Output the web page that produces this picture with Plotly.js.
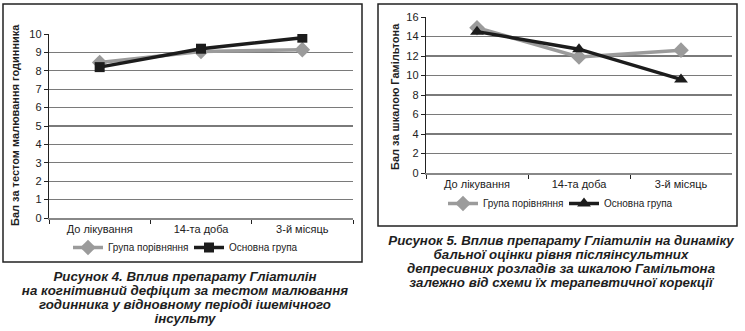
<!DOCTYPE html>
<html>
<head>
<meta charset="utf-8">
<script src="https://cdn.plot.ly/plotly-3.0.1.min.js"></script>
<style>
html,body{margin:0;padding:0;background:#fff;}
#wrap{position:relative;width:745px;height:331px;overflow:hidden;}
#chart{position:absolute;left:0;top:0;width:745px;height:331px;}
.cap{position:absolute;text-align:center;white-space:nowrap;font-family:'Liberation Sans',Arial,sans-serif;
  font-weight:bold;font-style:italic;font-size:13.3px;line-height:14px;color:#1e1e1e;}
</style>
</head>
<body>
<div id="wrap">
<div id="chart"></div>
<div id="cap4" class="cap" style="left:0px;top:270px;width:370px;"></div>
<div id="cap5" class="cap" style="left:380px;top:234px;width:362px;"></div>
</div>
<script>
var categories = ['До лікування', '14-та доба', '3-й місяць'];
var seriesNames = ['Група порівняння', 'Основна група'];

// Figure 4: clock drawing test score
var clockComparison = [8.45, 9.05, 9.15];
var clockMain = [8.2, 9.2, 9.8];
var clockTicks = [0, 1, 2, 3, 4, 5, 6, 7, 8, 9, 10];

// Figure 5: Hamilton scale score
var hamComparison = [14.9, 11.9, 12.6];
var hamMain = [14.5, 12.7, 9.6];
var hamTicks = [0, 2, 4, 6, 8, 10, 12, 14, 16];

var caption4 = [
  'Рисунок 4. Вплив препарату Гліатилін',
  'на когнітивний дефіцит за тестом малювання',
  'годинника у відновному періоді ішемічного',
  'інсульту'
];
var caption5 = [
  'Рисунок 5. Вплив препарату Гліатилін на динаміку',
  'бальної оцінки рівня післяінсультних',
  'депресивних розладів за шкалою Гамільтона',
  'залежно від схеми їх терапевтичної корекції'
];

document.getElementById('cap4').innerHTML = caption4.join('<br>');
document.getElementById('cap5').innerHTML = caption5.join('<br>');

var W = 745, H = 331;
function px(x) { return x / W; }
function py(y) { return (H - y) / H; }

var FONT = 'Liberation Sans, Arial, sans-serif';
var GRAY = '#9b9b9b';
var BLACK = '#1c1c1c';

var traces = [
  {x: categories, y: clockComparison, name: seriesNames[0], xaxis: 'x', yaxis: 'y', legend: 'legend',
   mode: 'lines+markers', line: {color: GRAY, width: 3.5},
   marker: {symbol: 'diamond', size: 12, color: GRAY}},
  {x: categories, y: clockMain, name: seriesNames[1], xaxis: 'x', yaxis: 'y', legend: 'legend',
   mode: 'lines+markers', line: {color: BLACK, width: 3.5},
   marker: {symbol: 'square', size: 10, color: BLACK}},
  {x: categories, y: hamComparison, name: seriesNames[0], xaxis: 'x2', yaxis: 'y2', legend: 'legend2',
   mode: 'lines+markers', line: {color: GRAY, width: 3.5},
   marker: {symbol: 'diamond', size: 12, color: GRAY}},
  {x: categories, y: hamMain, name: seriesNames[1], xaxis: 'x2', yaxis: 'y2', legend: 'legend2',
   mode: 'lines+markers', line: {color: BLACK, width: 3.5},
   marker: {symbol: 'triangle-up', size: 12, color: BLACK}}
];

function xAxis(domain, anchor) {
  return {domain: domain, anchor: anchor, type: 'category', range: [-0.5, 2.5],
    tickson: 'boundaries', ticks: 'outside', ticklen: 4, tickcolor: '#222', tickwidth: 1,
    showline: true, linecolor: '#888', linewidth: 1.5, showgrid: false, zeroline: false,
    tickfont: {family: FONT, size: 11, color: '#222'}, fixedrange: true};
}
function yAxis(domain, anchor, range, ticks) {
  return {domain: domain, anchor: anchor, range: range, tickvals: ticks,
    ticks: 'outside', ticklen: 4, tickcolor: '#222', tickwidth: 1,
    showline: true, linecolor: '#222', linewidth: 1.2, showgrid: true,
    gridcolor: '#7a7a7a', gridwidth: 1.2, zeroline: false,
    tickfont: {family: FONT, size: 11, color: '#222'}, fixedrange: true};
}

var annotations = [
  {xref: 'paper', yref: 'paper', x: px(15), y: py(125), xanchor: 'center', yanchor: 'middle',
   textangle: -90, showarrow: false, text: '<b>Бал за тестом малювання годинника</b>',
   font: {family: FONT, size: 11, color: '#1e1e1e'}},
  {xref: 'paper', yref: 'paper', x: px(395), y: py(97), xanchor: 'center', yanchor: 'middle',
   textangle: -90, showarrow: false, text: '<b>Бал за шкалою Гамільтона</b>',
   font: {family: FONT, size: 11, color: '#1e1e1e'}}
];

var shapes = [
  {type: 'rect', xref: 'paper', yref: 'paper', x0: px(3), x1: px(362), y0: py(262), y1: py(4),
   line: {color: '#222', width: 1.5}},
  {type: 'rect', xref: 'paper', yref: 'paper', x0: px(378), x1: px(737), y0: py(226), y1: py(4),
   line: {color: '#222', width: 1.5}}
];

var layout = {
  width: W, height: H,
  margin: {l: 0, r: 0, t: 0, b: 0},
  paper_bgcolor: '#fff', plot_bgcolor: '#fff',
  showlegend: true,
  font: {family: FONT, color: '#222'},
  xaxis: xAxis([px(49), px(353)], 'y'),
  yaxis: yAxis([py(218), py(34)], 'x', [0, 10], clockTicks),
  xaxis2: xAxis([px(426), px(732)], 'y2'),
  yaxis2: yAxis([py(173), py(17)], 'x2', [0, 16], hamTicks),
  legend: {orientation: 'h', x: px(68), y: py(247.5), xanchor: 'left', yanchor: 'middle',
    font: {family: FONT, size: 10, color: '#222'}, bgcolor: 'rgba(0,0,0,0)',
    entrywidth: 76, entrywidthmode: 'pixels', itemwidth: 30, tracegroupgap: 0},
  legend2: {orientation: 'h', x: px(443), y: py(203.5), xanchor: 'left', yanchor: 'middle',
    font: {family: FONT, size: 10, color: '#222'}, bgcolor: 'rgba(0,0,0,0)',
    entrywidth: 76, entrywidthmode: 'pixels', itemwidth: 30, tracegroupgap: 0},
  annotations: annotations,
  shapes: shapes
};

Plotly.newPlot('chart', traces, layout, {displayModeBar: false, staticPlot: true});
</script>
</body>
</html>
